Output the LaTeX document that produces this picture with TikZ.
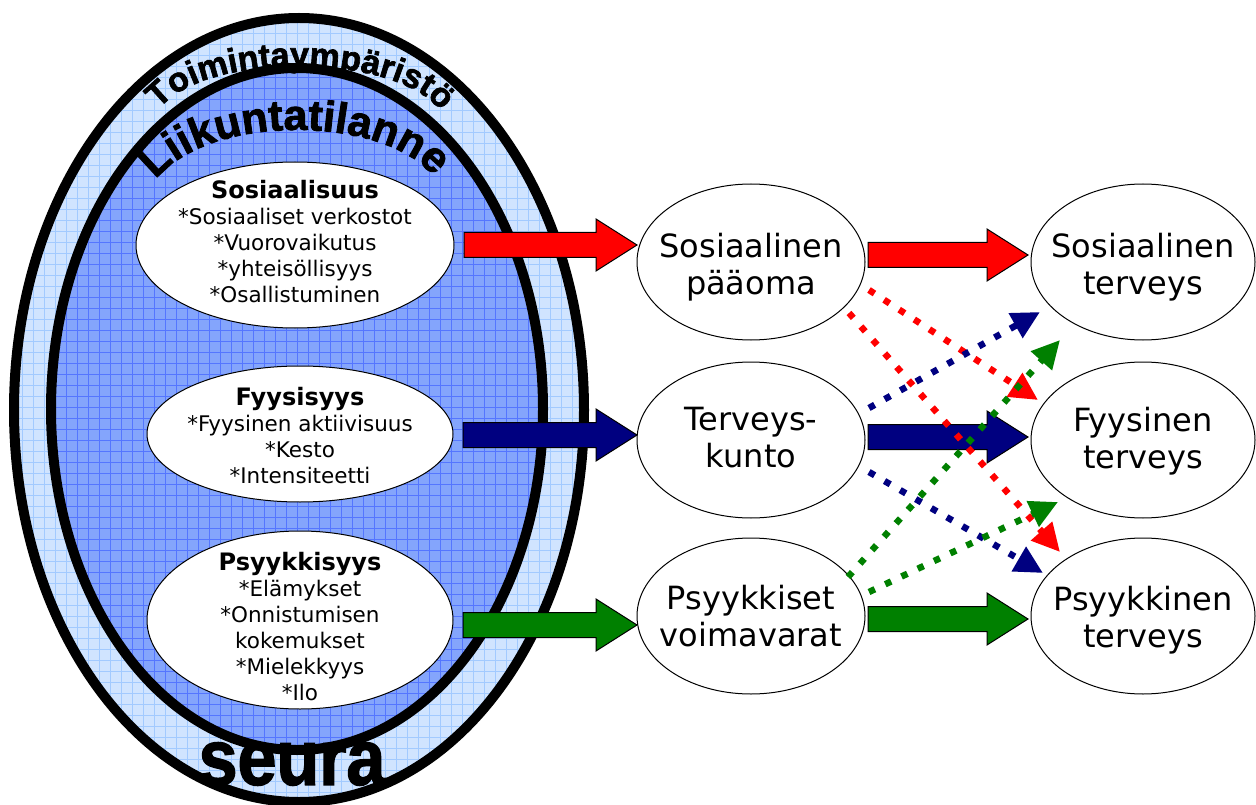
\documentclass[tikz,border=0pt]{standalone}
\usepackage{fontspec}
\usepackage{graphicx}
\setmainfont{DejaVu Sans}
\newfontfamily\wafont[BoldFeatures={FakeBold=2}]{Liberation Sans}
\usetikzlibrary{shapes.geometric,arrows.meta,calc,decorations.text}
\definecolor{ringlight}{HTML}{D0E4FF}
\definecolor{gridlight}{HTML}{A2CAFF}
\definecolor{ringmid}{HTML}{84A5FC}
\definecolor{gridmid}{HTML}{5476FF}
\definecolor{navyc}{HTML}{000080}
\definecolor{greenc}{HTML}{008000}
\newcommand{\blockarrow}[3]{%
  \filldraw[fill=#3, draw=black, line width=1pt, line join=miter]
    let \p1=#1, \p2=#2 in
    (\x1,\y1+12.5pt) -- (\x2-41pt,\y1+12.5pt) -- (\x2-41pt,\y1+26pt) -- (\x2,\y1)
    -- (\x2-41pt,\y1-26pt) -- (\x2-41pt,\y1-12.5pt) -- (\x1,\y1-12.5pt) -- cycle;}
\begin{document}
\begin{tikzpicture}[x=1pt,y=1pt,
  wel/.style={ellipse, draw=black, fill=white, line width=1pt, inner sep=0pt, outer sep=0pt},
  ltxt/.style={align=center, font=\fontsize{21.5}{26}\selectfont},
  rtxt/.style={align=center, font=\fontsize{32}{37}\selectfont},
  dotarr/.style={line width=6.5pt, dash pattern=on 6.5pt off 11.5pt, -{Triangle[length=28pt,width=27pt]}},
]
\useasboundingbox (0,0) rectangle (1256,-805);

% outer ring
\begin{scope}
  \clip (299,-410) ellipse [x radius=285pt, y radius=392pt];
  \fill[ringlight] (0,0) rectangle (600,-810);
  \draw[gridlight, line width=0.8pt, step=11pt] (0,0) grid (600,-810);
\end{scope}
\draw[line width=10pt] (299,-410) ellipse [x radius=285pt, y radius=392pt];

% inner ring
\begin{scope}
  \clip (297,-409) ellipse [x radius=246pt, y radius=341pt];
  \fill[ringmid] (0,0) rectangle (600,-810);
  \draw[gridmid, line width=0.8pt, step=11pt] (0,0) grid (600,-810);
\end{scope}
\draw[line width=10pt] (297,-409) ellipse [x radius=246pt, y radius=341pt];

% curved titles
\path[decorate, decoration={text along path, text align=center,
  text={|\wafont\bfseries\fontsize{34}{34}\selectfont\scalebox{0.9}[1.08]|Toimintaympäristö}}]
  (160,-108) .. controls (207,-52) and (393,-52) .. (440,-110);
\path[decorate, decoration={text along path, text align=center,
  text={|\wafont\bfseries\fontsize{43}{43}\selectfont\scalebox{0.9}[1.15]|Liikuntatilanne}}]
  (152,-185) .. controls (200,-112) and (390,-112) .. (438,-182);
\node (seura) at (292,-764) {\wafont\bfseries\fontsize{70}{70}\selectfont\scalebox{1}[1.12]{seura}};

% left ellipses
\node[wel, minimum width=318pt, minimum height=166pt] (e1) at (295,-245) {};
\node[wel, minimum width=306pt, minimum height=136pt] (e2) at (300,-434) {};
\node[wel, minimum width=306pt, minimum height=178pt] (e3) at (300,-620) {};

\node[ltxt] (e1t) at (295,-242) {{\bfseries\fontsize{24}{26}\selectfont Sosiaalisuus}\\{}*Sosiaaliset verkostot\\{}*Vuorovaikutus\\{}*yhteisöllisyys\\{}*Osallistuminen};
\node[ltxt] (e2t) at (300,-436) {{\bfseries\fontsize{24}{26}\selectfont Fyysisyys}\\{}*Fyysinen aktiivisuus\\{}*Kesto\\{}*Intensiteetti};
\node[ltxt] (e3t) at (300,-627) {{\bfseries\fontsize{24}{26}\selectfont Psyykkisyys}\\{}*Elämykset\\{}*Onnistumisen\\kokemukset\\{}*Mielekkyys\\{}*Ilo};

% right ellipses
\node[wel, minimum width=228pt, minimum height=156pt] (p1) at (751,-262) {};
\node[wel, minimum width=228pt, minimum height=156pt] (t1) at (751,-440) {};
\node[wel, minimum width=228pt, minimum height=156pt] (v1) at (751,-616) {};
\node[wel, minimum width=224pt, minimum height=156pt] (s2) at (1143,-262) {};
\node[wel, minimum width=224pt, minimum height=156pt] (f2) at (1143,-440) {};
\node[wel, minimum width=224pt, minimum height=156pt] (ps2) at (1143,-616) {};

\node[rtxt] (p1t) at (751,-267) {Sosiaalinen\\pääoma};
\node[rtxt] (t1t) at (751,-438) {Terveys-\\kunto};
\node[rtxt] (v1t) at (751,-616) {Psyykkiset\\voimavarat};
\node[rtxt] (s2t) at (1143,-267) {Sosiaalinen\\terveys};
\node[rtxt] (f2t) at (1143,-441) {Fyysinen\\terveys};
\node[rtxt] (ps2t) at (1143,-620) {Psyykkinen\\terveys};

% block arrows
\blockarrow{($(e1.east)+(10,0)$)}{(p1.west)}{red}
\blockarrow{($(e2.east)+(10,-1)$)}{(t1.west)}{navyc}
\blockarrow{($(e3.east)+(10,-5)$)}{(v1.west)}{greenc}
\blockarrow{($(p1.east)+(3,7)$)}{($(s2.west)+(-3,0)$)}{red}
\blockarrow{($(t1.east)+(3,3)$)}{($(f2.west)+(-3,0)$)}{navyc}
\blockarrow{($(v1.east)+(3,-3)$)}{($(ps2.west)+(-3,0)$)}{greenc}

% dotted cross arrows
\draw[dotarr, red] ($(p1)+(118,-28)$) -- ($(f2)+(-105,40)$);
\draw[dotarr, red] ($(p1)+(98,-51)$) -- ($(ps2)+(-83,64)$);
\draw[dotarr, navyc] ($(t1)+(118,32)$) -- ($(s2)+(-103,-50)$);
\draw[dotarr, navyc] ($(t1)+(118,-32)$) -- ($(ps2)+(-100,43)$);
\draw[dotarr, greenc] ($(v1)+(97,39)$) -- ($(s2)+(-83,-78)$);
\draw[dotarr, greenc] ($(v1)+(118,24)$) -- ($(f2)+(-85,-62)$);
\end{tikzpicture}
\end{document}
